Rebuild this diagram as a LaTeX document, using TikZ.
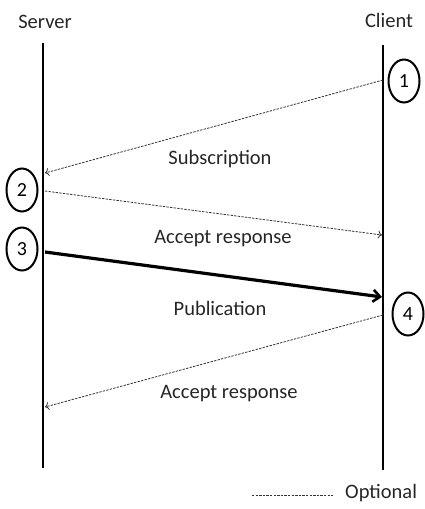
\documentclass[tikz,border=0pt]{standalone}
\usepackage{fontspec}
\setmainfont{Carlito}
\usetikzlibrary{arrows.meta,shapes.geometric}
\begin{document}
\begin{tikzpicture}[x=1pt,y=-1pt,
  txt/.style={font=\fontsize{20.5}{24}\selectfont, inner sep=0pt, text=black!85},
  lifeline/.style={line width=1.8pt},
  optmsg/.style={line width=0.8pt, black!80, dash pattern=on 2.4pt off 1.2pt,
    -{To[length=4pt,width=8pt,line width=0.8pt]}},
  pubmsg/.style={line width=3.2pt, -{Straight Barb[length=7pt,width=12pt,line width=2.6pt]}},
  stepmark/.style={draw, ellipse, line width=2pt, minimum width=31pt,
    minimum height=43pt, inner sep=0pt, font=\fontsize{20}{24}\selectfont}]
\useasboundingbox (0,0) rectangle (424,509);

% participants
\node[txt] (server) at (45,22) {Server};
\node[txt] (client) at (389,20) {Client};
\coordinate (stop) at (43,43);
\coordinate (sbot) at (43,468);
\coordinate (ctop) at (383,45);
\coordinate (cbot) at (383,470);
\draw[lifeline] (stop) -- (sbot);
\draw[lifeline] (ctop) -- (cbot);

% step markers
\node[stepmark] (n1) at (404,81) {1};
\node[stepmark] (n2) at (22,190) {2};
\node[stepmark] (n3) at (22,249) {3};
\node[stepmark] (n4) at (408,314) {4};

% message end points on the lifelines
\coordinate (m1a) at (383,80);
\coordinate (m1b) at (45,173);
\coordinate (m2a) at (45,191);
\coordinate (m2b) at (382,235);
\coordinate (m3a) at (45,252);
\coordinate (m3b) at (382,297);
\coordinate (m4a) at (383,315);
\coordinate (m4b) at (45,407);

% messages
\draw[optmsg] (m1a) -- (m1b);
\draw[optmsg] (m2a) -- (m2b);
\draw[pubmsg] (m3a) -- (m3b);
\draw[optmsg] (m4a) -- (m4b);

\node[txt] (l1) at (220,159) {Subscription};
\node[txt] (l2) at (223,239) {Accept response};
\node[txt] (l3) at (220,308) {Publication};
\node[txt] (l4) at (229,394) {Accept response};

% legend
\coordinate (lga) at (252,495);
\coordinate (lgb) at (333,495);
\draw[line width=0.8pt, black!80, dash pattern=on 2.4pt off 1.2pt] (lga) -- (lgb);
\node[txt, anchor=west] (opt) at (345,493) {Optional};
\end{tikzpicture}
\end{document}
